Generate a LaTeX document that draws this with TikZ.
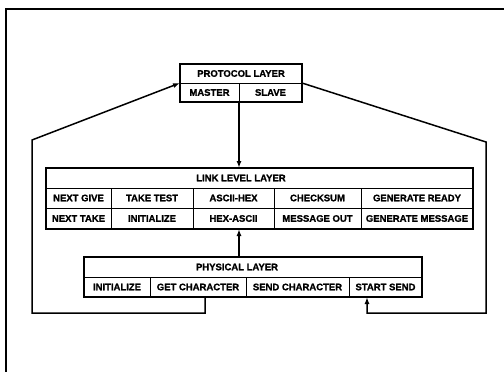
\documentclass[tikz,border=0pt]{standalone}
\usepackage{fontspec}
\setmainfont{Liberation Sans}[BoldFeatures={FakeBold=1.2}]
\usetikzlibrary{arrows.meta}
\newcommand\mycell[6]{%
  \pgfmathsetmacro\mycw{#4-#2}\pgfmathsetmacro\mych{#5-#3}%
  \pgfmathsetmacro\mycx{(#2+#4)/2}\pgfmathsetmacro\mycy{(#3+#5)/2}%
  \node[cellst, minimum width=\mycw pt, minimum height=\mych pt] (#1) at (\mycx,\mycy) {#6};}
\newcommand\mybox[5]{%
  \pgfmathsetmacro\mycw{#4-#2}\pgfmathsetmacro\mych{#5-#3}%
  \pgfmathsetmacro\mycx{(#2+#4)/2}\pgfmathsetmacro\mycy{(#3+#5)/2}%
  \node[boxst, minimum width=\mycw pt, minimum height=\mych pt] (#1) at (\mycx,\mycy) {};}
\begin{document}
\begin{tikzpicture}[x=1pt,y=-1pt,
  cellst/.style={draw, line width=1pt, inner sep=0pt, outer sep=0pt,
    font=\fontsize{9.5}{11}\selectfont\bfseries},
  boxst/.style={draw, line width=2pt, inner sep=0pt, outer sep=0pt},
  lbl/.style={inner sep=0pt, font=\fontsize{9.5}{11}\selectfont\bfseries},
  conn/.style={line width=1.5pt},
  arr/.style={conn, -{Latex[length=7pt,width=5pt]}}]
\useasboundingbox[fill=white] (0,0) rectangle (504,372);
% outer frame
\draw[line width=2pt] (6,372) -- (6,9) -- (504,9);
% protocol layer
\mycell{protohead}{180}{64}{302}{83}{PROTOCOL LAYER}
\mycell{master}{180}{83}{239}{102}{MASTER}
\mycell{slave}{239}{83}{302}{102}{SLAVE}
\mybox{protobox}{180}{64}{302}{102}
% link level layer
\mycell{linkhead}{46}{168}{473}{188}{}
\node[lbl] (linktitle) at (241,178) {LINK LEVEL LAYER};
\mycell{nextgive}{46}{188}{111}{208}{NEXT GIVE}
\mycell{taketest}{111}{188}{193}{208}{TAKE TEST}
\mycell{asciihex}{193}{188}{274}{208}{ASCII-HEX}
\mycell{checksum}{274}{188}{361}{208}{CHECKSUM}
\mycell{genready}{361}{188}{473}{208}{GENERATE READY}
\mycell{nexttake}{46}{208}{111}{229}{NEXT TAKE}
\mycell{linkinit}{111}{208}{193}{229}{INITIALIZE}
\mycell{hexascii}{193}{208}{274}{229}{HEX-ASCII}
\mycell{msgout}{274}{208}{361}{229}{MESSAGE OUT}
\mycell{genmsg}{361}{208}{473}{229}{GENERATE MESSAGE}
\mybox{linkbox}{46}{168}{473}{229}
% physical layer
\mycell{physhead}{84}{257}{422}{277}{}
\node[lbl] (phystitle) at (237,267) {PHYSICAL LAYER};
\mycell{physinit}{84}{277}{150}{297}{INITIALIZE}
\mycell{getchar}{150}{277}{246}{297}{GET CHARACTER}
\mycell{sendchar}{246}{277}{349}{297}{SEND CHARACTER}
\mycell{startsend}{349}{277}{422}{297}{START SEND}
\mybox{physbox}{84}{257}{422}{297}
% connectors
\draw[arr] (master.south east) -- (master.south east |- linkbox.north);
\draw[arr] (master.south east |- physbox.north) -- (master.south east |- linkbox.south);
\coordinate (lx) at (205,313);
\coordinate (lb) at (32,313);
\coordinate (lt) at (32,140);
\draw[arr, line join=miter] (lx |- getchar.south) -- (lx) -- (lb) -- (lt) -- (protohead.south west);
\coordinate (rt) at (486,142);
\coordinate (rb) at (486,313);
\coordinate (rx) at (367,313);
\draw[arr, line join=miter] (protohead.south east) -- (rt) -- (rb) -- (rx) -- (rx |- startsend.south);
\end{tikzpicture}
\end{document}
